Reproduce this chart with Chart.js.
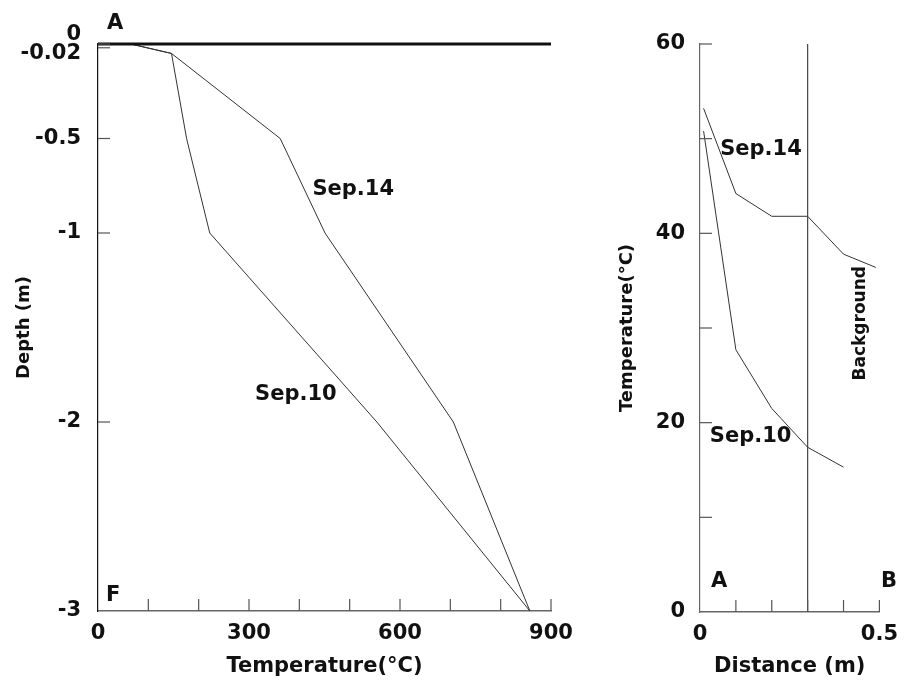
<!DOCTYPE html>
<html lang="en">
<head>
    <meta charset="UTF-8">
    <title>Temperature profiles</title>
    <script src="https://cdn.jsdelivr.net/npm/chart.js"></script>
    <style>
        body {
            margin: 0;
            background-color: #fff;
        }
        #wrap {
            position: relative;
            width: 908px;
            height: 688px;
        }
        #depthChart {
            position: absolute;
            left: 0;
            top: 0;
        }
        #distChart {
            position: absolute;
            left: 600px;
            top: 0;
        }
    </style>
</head>
<body>
    <div id="wrap">
        <canvas id="depthChart" width="600" height="688"></canvas>
        <canvas id="distChart" width="308" height="688"></canvas>
    </div>

    <script>
        // left panel: temperature (°C) against depth (m)
        const sep14Temp = [65, 146, 362, 451, 706, 858];
        const sep14Depth = [0, -0.05, -0.5, -1, -2, -3];
        const sep10Temp = [65, 146, 176, 222, 554, 858];
        const sep10Depth = [0, -0.05, -0.5, -1, -2, -3];
        const surfaceTemp = [0, 900];
        const surfaceDepth = [0, 0];
        const depthTicks = [0, -0.02, -0.5, -1, -2, -3];

        // right panel: surface temperature (°C) against distance (m)
        const sep14Dist = [0.01, 0.1, 0.2, 0.3, 0.4, 0.49];
        const sep14Surf = [53.2, 44.2, 41.8, 41.8, 37.8, 36.4];
        const sep10Dist = [0.01, 0.1, 0.2, 0.3, 0.4];
        const sep10Surf = [50.8, 27.7, 21.5, 17.4, 15.3];
        const markerDist = [0.3, 0.3];
        const markerTemp = [0, 60];

        const textColor = '#111';
        const boldFont = { family: 'DejaVu Sans', weight: 'bold', size: 21 };
        // the vertical texts are shorter in the original
        const sideFont = { family: 'DejaVu Sans', weight: 'bold', size: 18 };

        // pairs two arrays into {x, y} points
        function zip(xs, ys) {
            return xs.map((x, i) => ({ x: x, y: ys[i] }));
        }

        function lineSet(xs, ys, color, width) {
            return {
                data: zip(xs, ys),
                showLine: true,
                borderColor: color,
                borderWidth: width,
                pointRadius: 0
            };
        }

        // tick marks drawn on the inside of the axes
        const innerTicks = {
            id: 'innerTicks',
            afterDatasetsDraw(chart) {
                const ctx = chart.ctx;
                const area = chart.chartArea;
                const xs = chart.scales.x;
                const ys = chart.scales.y;
                ctx.save();
                ctx.strokeStyle = '#555';
                ctx.lineWidth = 1.2;
                xs.ticks.forEach(t => {
                    const px = xs.getPixelForValue(t.value);
                    if (Math.abs(px - area.left) < 1) return;
                    ctx.beginPath();
                    ctx.moveTo(px, area.bottom);
                    ctx.lineTo(px, area.bottom - 12);
                    ctx.stroke();
                });
                ys.ticks.forEach(t => {
                    const py = ys.getPixelForValue(t.value);
                    if (Math.abs(py - area.bottom) < 1) return;
                    ctx.beginPath();
                    ctx.moveTo(area.left, py);
                    ctx.lineTo(area.left + 12, py);
                    ctx.stroke();
                });
                ctx.restore();
            }
        };

        // free text labels, placed in data units
        const notes = {
            id: 'notes',
            afterDraw(chart, args, opts) {
                const ctx = chart.ctx;
                ctx.save();
                ctx.fillStyle = textColor;
                ctx.textAlign = 'center';
                ctx.textBaseline = 'middle';
                (opts.items || []).forEach(n => {
                    const px = chart.scales.x.getPixelForValue(n.x);
                    const py = chart.scales.y.getPixelForValue(n.y);
                    ctx.font = 'bold ' + (n.size || 21) + 'px "DejaVu Sans"';
                    ctx.save();
                    ctx.translate(px, py);
                    if (n.rotate) ctx.rotate(n.rotate);
                    ctx.fillText(n.text, 0, 0);
                    ctx.restore();
                });
                ctx.restore();
            }
        };

        // left chart
        new Chart(document.getElementById('depthChart'), {
            type: 'scatter',
            data: {
                datasets: [
                    Object.assign(lineSet(surfaceTemp, surfaceDepth, '#111', 3), { clip: false }),
                    lineSet(sep14Temp, sep14Depth, '#333', 1),
                    lineSet(sep10Temp, sep10Depth, '#333', 1)
                ]
            },
            options: {
                responsive: false,
                animation: false,
                layout: { padding: { top: 44, right: 49, left: 0, bottom: 0 } },
                plugins: {
                    legend: { display: false },
                    tooltip: { enabled: false },
                    notes: {
                        items: [
                            { text: 'A', x: 34, y: 0.11 },
                            { text: 'F', x: 30, y: -2.92 },
                            { text: 'Sep.14', x: 507, y: -0.77 },
                            { text: 'Sep.10', x: 393, y: -1.855 }
                        ]
                    }
                },
                scales: {
                    x: {
                        type: 'linear',
                        min: 0,
                        max: 900,
                        grid: { drawOnChartArea: false, drawTicks: false },
                        border: { color: '#666', width: 1.5 },
                        ticks: {
                            stepSize: 100,
                            autoSkip: false,
                            maxRotation: 0,
                            padding: 10,
                            color: textColor,
                            font: boldFont,
                            callback: v => (v % 300 === 0 ? String(v) : '')
                        },
                        title: {
                            display: true,
                            text: 'Temperature(°C)',
                            color: textColor,
                            font: boldFont,
                            padding: { top: 0, bottom: 9 }
                        },
                        afterFit: s => { s.height = 77; }
                    },
                    y: {
                        type: 'linear',
                        min: -3,
                        max: 0,
                        grid: { drawOnChartArea: false, drawTicks: false },
                        border: { color: '#111', width: 1.2 },
                        afterBuildTicks: s => { s.ticks = depthTicks.map(v => ({ value: v })); },
                        ticks: {
                            autoSkip: false,
                            padding: 17,
                            color: textColor,
                            font: Object.assign({}, boldFont, { lineHeight: 0.9 }),
                            callback: v => (v === 0 ? ['0', '-0.02'] : (v === -0.02 ? '' : String(v)))
                        },
                        title: {
                            display: true,
                            text: 'Depth (m)',
                            color: textColor,
                            font: sideFont,
                            padding: { top: 14, bottom: 0 }
                        },
                        afterFit: s => { s.width = 98; }
                    }
                }
            },
            plugins: [innerTicks, notes]
        });

        // right chart
        new Chart(document.getElementById('distChart'), {
            type: 'scatter',
            data: {
                datasets: [
                    lineSet(markerDist, markerTemp, '#444', 1.2),
                    lineSet(sep14Dist, sep14Surf, '#333', 1),
                    lineSet(sep10Dist, sep10Surf, '#333', 1)
                ]
            },
            options: {
                responsive: false,
                animation: false,
                layout: { padding: { top: 44, right: 22, left: 0, bottom: 0 } },
                plugins: {
                    legend: { display: false },
                    tooltip: { enabled: false },
                    notes: {
                        items: [
                            { text: 'A', x: 0.053, y: 3.2 },
                            { text: 'B', x: 0.527, y: 3.2 },
                            { text: 'Sep.14', x: 0.17, y: 48.9 },
                            { text: 'Sep.10', x: 0.141, y: 18.5 },
                            { text: 'Background', x: 0.447, y: 30.5, rotate: -Math.PI / 2, size: 17 }
                        ]
                    }
                },
                scales: {
                    x: {
                        type: 'linear',
                        min: 0,
                        max: 0.5,
                        grid: { drawOnChartArea: false, drawTicks: false },
                        border: { color: '#666', width: 1.5 },
                        ticks: {
                            stepSize: 0.1,
                            autoSkip: false,
                            maxRotation: 0,
                            padding: 10,
                            color: textColor,
                            font: boldFont,
                            callback: v => (v === 0 ? '0' : (Math.abs(v - 0.5) < 1e-9 ? '0.5' : ''))
                        },
                        title: {
                            display: true,
                            text: 'Distance (m)',
                            color: textColor,
                            font: boldFont,
                            padding: { top: 0, bottom: 9 }
                        },
                        afterFit: s => { s.height = 76; }
                    },
                    y: {
                        type: 'linear',
                        min: 0,
                        max: 60,
                        grid: { drawOnChartArea: false, drawTicks: false },
                        border: { color: '#666', width: 1.2 },
                        ticks: {
                            stepSize: 10,
                            autoSkip: false,
                            padding: 15,
                            color: textColor,
                            font: boldFont,
                            callback: v => (v % 20 === 0 ? String(v) : '')
                        },
                        title: {
                            display: true,
                            text: 'Temperature(°C)',
                            color: textColor,
                            font: sideFont,
                            padding: { top: 17, bottom: 0 }
                        },
                        afterFit: s => { s.width = 100; }
                    }
                }
            },
            plugins: [innerTicks, notes]
        });
    </script>
</body>
</html>
